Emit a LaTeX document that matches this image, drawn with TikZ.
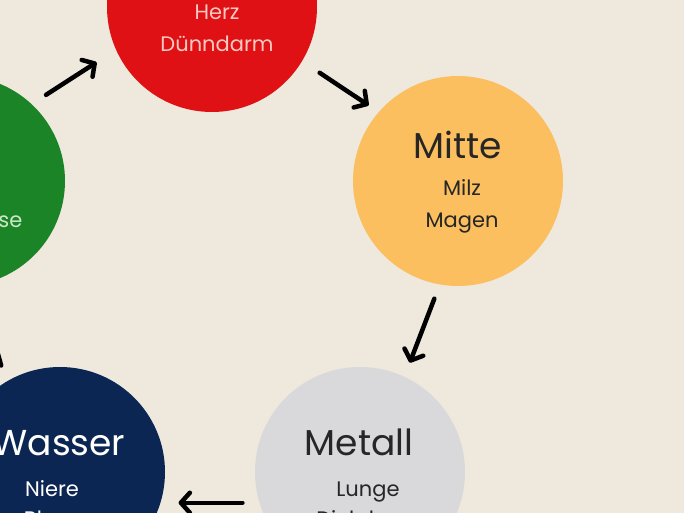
\documentclass[tikz,border=0pt]{standalone}
\usepackage{fontspec}
\setmainfont{Poppins}
\usetikzlibrary{arrows.meta}
\definecolor{paper}{HTML}{EEE8DD}
\definecolor{feuerred}{HTML}{DF1114}
\definecolor{mitteorange}{HTML}{FCBF5F}
\definecolor{metallgray}{HTML}{D9D9DB}
\definecolor{wasserblue}{HTML}{0B2652}
\definecolor{holzgreen}{HTML}{1A8427}
\definecolor{feuertext}{HTML}{F8C9C2}
\definecolor{holztext}{HTML}{CDE8C6}

\begin{document}
\begin{tikzpicture}[x=1pt,y=-1pt,
  elem/.style={circle,minimum size=210pt,inner sep=0pt},
  head/.style={anchor=base,font=\fontsize{36}{40}\selectfont},
  organ/.style={anchor=base,font=\fontsize{21}{24}\selectfont},
  cycle/.style={line width=4.5pt,line cap=round,-{Straight Barb[length=9pt,width=20pt,round]}}]
  \clip (0,0) rectangle (684,513);
  \fill[paper] (0,0) rectangle (684,513);
  % the five elements
  \node[elem, fill=holzgreen] (holz) at (-40,181) {};
  \node[elem, fill=feuerred] (feuer) at (212,7) {};
  \node[elem, fill=mitteorange] (mitte) at (458,181) {};
  \node[elem, fill=metallgray] (metall) at (360,472) {};
  \node[elem, fill=wasserblue] (wasser) at (60,472) {};
  % texts
  \node[organ, text=holztext] (galle) at (-40,227) {Gallenblase};
  \node[organ, text=feuertext] (herz) at (217,20) {Herz};
  \node[organ, text=feuertext] (duenn) at (217,52) {Dünndarm};
  \node[head, text=black!85] (mitteT) at (458,158) {Mitte};
  \node[organ, text=black!85] (milz) at (462,195) {Milz};
  \node[organ, text=black!85] (magen) at (462,227) {Magen};
  \node[head, text=black!85] (metallT) at (359,455) {Metall};
  \node[organ, text=black!85] (lunge) at (368,496) {Lunge};
  \node[organ, text=black!85] (dick) at (367,526) {Dickdarm};
  \node[head, text=white] (wasserT) at (59,455) {Wasser};
  \node[organ, text=white] (niere) at (52,496) {Niere};
  \node[organ, text=white] (blase) at (52,526) {Blase};
  % cycle
  \draw[cycle, shorten <=17pt, shorten >=23pt] (holz.47.7) -- (feuer.204.4);
  \draw[cycle, shorten <=21pt, shorten >=12pt] (feuer.-31) -- (mitte.139.4);
  \draw[cycle, shorten <=15pt, shorten >=15pt] (mitte.-100) -- (metall.65.4);
  \draw[cycle, shorten <=17pt, shorten >=18pt] (metall.197.1) -- (wasser.-17);
  \draw[cycle, shorten <=17pt, shorten >=20pt] (wasser.121) -- (holz.-80);
\end{tikzpicture}
\end{document}
